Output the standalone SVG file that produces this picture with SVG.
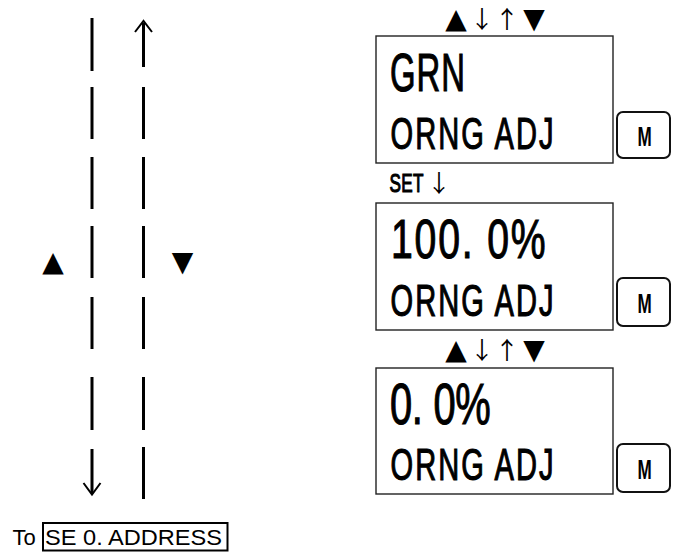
<svg xmlns="http://www.w3.org/2000/svg" width="678" height="557" viewBox="0 0 678 557">
<style>
  .bar { stroke: #000; stroke-width: 3; fill: none; }
  .ah { stroke: #000; stroke-width: 2; fill: none; }
  .box { fill: #fff; stroke: #222; stroke-width: 1.4; }
  .btn { fill: #fff; stroke: #111; stroke-width: 2; }
  .lcd { font-family: "Liberation Sans", Arial, sans-serif; fill: #000; stroke: #000; stroke-width: 1.1; }
  .tri { font-family: "DejaVu Sans", sans-serif; font-size: 28px; fill: #000; text-anchor: middle; }
  .arr { font-family: "Noto Sans CJK JP", "DejaVu Sans", sans-serif; font-size: 24px; fill: #000; text-anchor: middle; }
  .m { font-family: "Liberation Sans", Arial, sans-serif; font-weight: bold; font-size: 28.5px; fill: #000; text-anchor: middle; }
  .lbl { font-family: "Liberation Sans", Arial, sans-serif; font-size: 22px; fill: #000; }
</style>

<g id="connectors">
  <line class="bar" x1="92" y1="18" x2="92" y2="71"/>
  <line class="bar" x1="92" y1="87" x2="92" y2="139"/>
  <line class="bar" x1="92" y1="157" x2="92" y2="209"/>
  <line class="bar" x1="92" y1="226" x2="92" y2="278"/>
  <line class="bar" x1="92" y1="297" x2="92" y2="349"/>
  <line class="bar" x1="92" y1="377" x2="92" y2="430"/>
  <line class="bar" x1="92" y1="449" x2="92" y2="493"/>
  <polyline class="ah" points="83.5,483 92,494.5 100.5,483"/>
  <line class="bar" x1="143.5" y1="23" x2="143.5" y2="67"/>
  <polyline class="ah" points="135,32 143.5,21 152,32"/>
  <line class="bar" x1="143.5" y1="87" x2="143.5" y2="139"/>
  <line class="bar" x1="143.5" y1="157" x2="143.5" y2="209"/>
  <line class="bar" x1="143.5" y1="226" x2="143.5" y2="278"/>
  <line class="bar" x1="143.5" y1="297" x2="143.5" y2="349"/>
  <line class="bar" x1="143.5" y1="377" x2="143.5" y2="430"/>
  <line class="bar" x1="143.5" y1="447" x2="143.5" y2="499"/>
</g>

<g id="left-keys">
  <text class="tri" x="53" y="271">▲</text>
  <text class="tri" x="182.5" y="271">▼</text>
</g>

<g id="keys-top">
  <text class="tri" x="456" y="28">▲</text>
  <text class="arr" x="482" y="28">↓</text>
  <text class="arr" x="507" y="28">↑</text>
  <text class="tri" x="534" y="28">▼</text>
</g>

<g id="screen-grn">
  <rect class="box" x="376" y="36" width="237" height="127"/>
  <text class="lcd" transform="translate(390,91) scale(0.62,1)" font-size="53" textLength="121" lengthAdjust="spacing">GRN</text>
  <text class="lcd" transform="translate(390.5,148.5) scale(0.66,1)" font-size="44" textLength="247" lengthAdjust="spacing">ORNG ADJ</text>
</g>
<g id="btn-m1">
  <rect class="btn" x="617" y="112" width="53" height="46" rx="6"/>
  <text class="m" transform="translate(644.5,145.5) scale(0.6,1)">M</text>
</g>

<g id="set-label">
  <text class="lcd" transform="translate(389.5,191.5) scale(0.66,1)" font-size="26" textLength="51.5" lengthAdjust="spacing" stroke-width="0.4">SET</text>
  <text class="arr" x="439" y="191.5">↓</text>
</g>

<g id="screen-100">
  <rect class="box" x="376" y="203" width="237" height="127"/>
  <text class="lcd" transform="translate(391,257.5) scale(0.7,1)" font-size="56" textLength="221" lengthAdjust="spacing">100. 0%</text>
  <text class="lcd" transform="translate(390.5,315.5) scale(0.66,1)" font-size="44" textLength="247" lengthAdjust="spacing">ORNG ADJ</text>
</g>
<g id="btn-m2">
  <rect class="btn" x="617" y="278" width="53" height="48" rx="6"/>
  <text class="m" transform="translate(644.5,312.5) scale(0.6,1)">M</text>
</g>

<g id="keys-mid">
  <text class="tri" x="456" y="359">▲</text>
  <text class="arr" x="482" y="359">↓</text>
  <text class="arr" x="507" y="359">↑</text>
  <text class="tri" x="534" y="359">▼</text>
</g>

<g id="screen-0">
  <rect class="box" x="376" y="368" width="237" height="126"/>
  <text class="lcd" transform="translate(390,423.5) scale(0.7,1)" font-size="57" textLength="144" lengthAdjust="spacing">0. 0%</text>
  <text class="lcd" transform="translate(390.5,479.5) scale(0.66,1)" font-size="44" textLength="247" lengthAdjust="spacing">ORNG ADJ</text>
</g>
<g id="btn-m3">
  <rect class="btn" x="617" y="444" width="53" height="48" rx="6"/>
  <text class="m" transform="translate(644.5,478.5) scale(0.6,1)">M</text>
</g>

<g id="goto-se0">
  <text class="lbl" x="12.5" y="545">To</text>
  <rect x="43" y="523" width="184.5" height="27.5" fill="none" stroke="#000" stroke-width="2"/>
  <text class="lbl" x="45" y="545" textLength="177" lengthAdjust="spacingAndGlyphs">SE 0. ADDRESS</text>
</g>
</svg>
